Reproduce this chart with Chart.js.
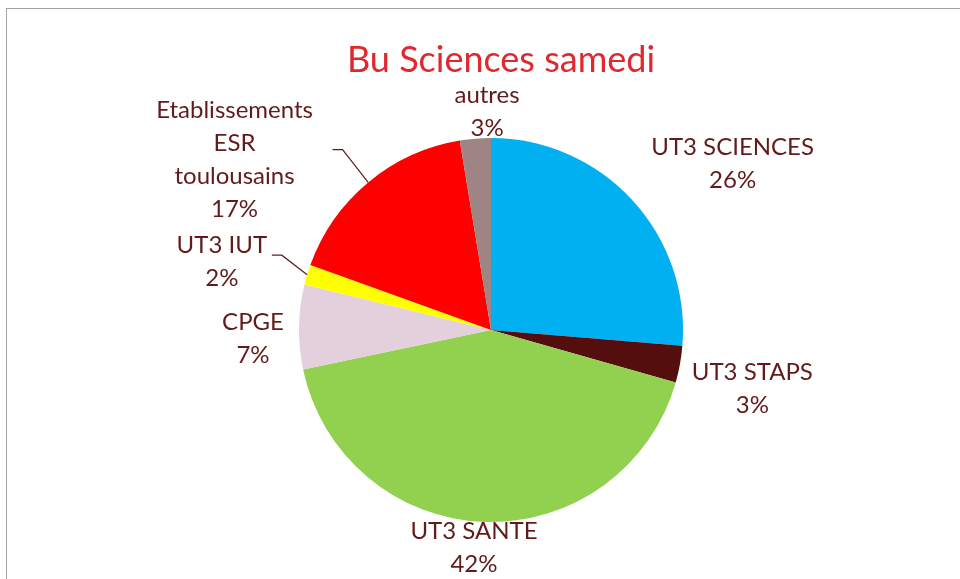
<!DOCTYPE html>
<html>
<head>
<meta charset="utf-8">
<script src="https://cdn.jsdelivr.net/npm/chart.js@4/dist/chart.umd.min.js"></script>
<style>
  html, body { margin: 0; padding: 0; background: #fff; }
  #wrap { width: 960px; height: 579px; }
</style>
</head>
<body>
<div id="wrap"><canvas id="pie"></canvas></div>
<script>
const title = 'Bu Sciences samedi';
const labels = ['UT3 SCIENCES', 'UT3 STAPS', 'UT3 SANTE', 'CPGE', 'UT3 IUT', ['Etablissements', 'ESR', 'toulousains'], 'autres'];
const values = [26.3, 3.1, 42.3, 7.1, 1.7, 16.9, 2.6];
const colors = ['#00B0F0', '#540E0E', '#92D050', '#E3D0DC', '#FFFF00', '#FF0000', '#9E8482'];

// label placement: nudge from a point 40px outside the arc, per slice
const labelNudge = [[71, -9], [33, 17], [-9, -14], [-6, 12], [-47, -1], [-108, 8], [15, 13]];
// leader lines (start relative to label centre), null = none
const leaders = [null, null, null, null, [50, -7], [98, -10], null];

const labelColor = '#621B1B';
const font = 'Lato, "Open Sans", sans-serif';

const labelPlugin = {
    id: 'pieLabels',
    beforeDraw(chart) {
        const ctx = chart.ctx;
        ctx.save();
        ctx.strokeStyle = '#A9A09D';
        ctx.lineWidth = 1;
        ctx.strokeRect(6.5, 8.5, 1000, 1000);
        ctx.restore();
    },
    afterDraw(chart) {
        const ctx = chart.ctx;
        const meta = chart.getDatasetMeta(0);
        const total = values.reduce((a, b) => a + b, 0);
        ctx.save();

        ctx.fillStyle = '#E0282E';
        ctx.font = '36px ' + font;
        ctx.textAlign = 'center';
        ctx.textBaseline = 'middle';
        ctx.fillText(title, 501, 60);

        ctx.font = '24px ' + font;
        meta.data.forEach((arc, i) => {
            const mid = (arc.startAngle + arc.endAngle) / 2;
            const r = arc.outerRadius;
            const cx = arc.x + Math.cos(mid) * (r + 40) + labelNudge[i][0];
            const cy = arc.y + Math.sin(mid) * (r + 40) + labelNudge[i][1];
            const lines = [].concat(labels[i]);
            lines.push(Math.round(values[i] / total * 100) + '%');
            const lh = 33;
            ctx.fillStyle = labelColor;
            lines.forEach((t, k) => {
                ctx.fillText(t, cx, cy + (k - (lines.length - 1) / 2) * lh);
            });

            if (leaders[i]) {
                const sx = cx + leaders[i][0];
                const sy = cy + leaders[i][1];
                const ex = arc.x + Math.cos(mid) * r;
                const ey = arc.y + Math.sin(mid) * r;
                ctx.strokeStyle = labelColor;
                ctx.lineWidth = 1.2;
                ctx.beginPath();
                ctx.moveTo(sx, sy);
                ctx.lineTo(sx + 10, sy);
                ctx.lineTo(ex, ey);
                ctx.stroke();
            }
        });
        ctx.restore();
    }
};

new Chart(document.getElementById('pie'), {
    type: 'pie',
    data: {
        labels: labels,
        datasets: [{
            data: values,
            backgroundColor: colors,
            borderWidth: 0
        }]
    },
    options: {
        responsive: true,
        maintainAspectRatio: false,
        animation: false,
        layout: {
            padding: { left: 299, right: 277, top: 138, bottom: 57 }
        },
        plugins: {
            legend: { display: false },
            tooltip: { enabled: false },
            title: { display: false }
        }
    },
    plugins: [labelPlugin]
});
</script>
</body>
</html>
